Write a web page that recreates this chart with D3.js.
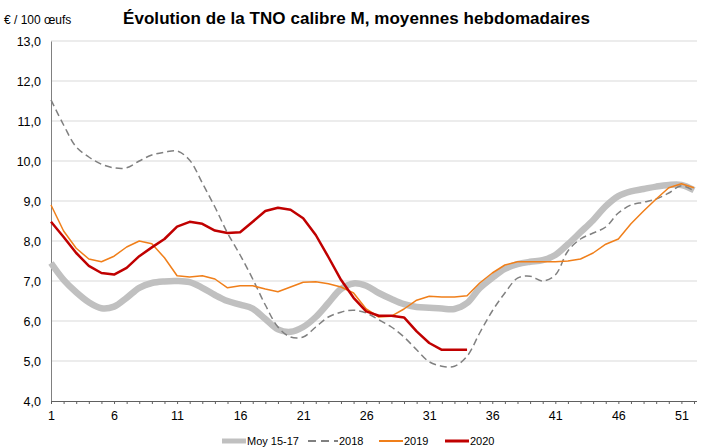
<!DOCTYPE html>
<html>
<head>
<meta charset="utf-8">
<script src="https://cdn.jsdelivr.net/npm/d3@7"></script>
<style>
body { margin: 0; background: #fff; }
text { font-family: "Liberation Sans", Arial, sans-serif; }
</style>
</head>
<body>
<svg id="chart" width="704" height="448"></svg>
<script>
// weekly prices, € / 100 eggs
var weeks = d3.range(1, 53);
var moy1517 = [7.45, 7.03, 6.72, 6.47, 6.32, 6.36, 6.58, 6.83, 6.95, 6.99, 7.0, 6.97, 6.83, 6.65, 6.5, 6.41, 6.31, 6.05, 5.79, 5.73,
	5.85, 6.1, 6.45, 6.8, 6.94, 6.88, 6.7, 6.55, 6.42, 6.35, 6.33, 6.31, 6.3, 6.45, 6.82, 7.08, 7.3, 7.42, 7.48, 7.52,
	7.65, 7.92, 8.22, 8.52, 8.87, 9.12, 9.24, 9.3, 9.36, 9.4, 9.4, 9.27];
var y2018 = [11.53, 10.9, 10.35, 10.1, 9.92, 9.83, 9.83, 10.0, 10.15, 10.22, 10.25, 10.02, 9.45, 8.85, 8.2, 7.65, 7.05, 6.4, 5.85, 5.6,
	5.6, 5.85, 6.1, 6.22, 6.27, 6.2, 6.03, 5.85, 5.6, 5.28, 4.98, 4.87, 4.87, 5.12, 5.7, 6.25, 6.7, 7.07, 7.12, 7.0,
	7.15, 7.75, 8.05, 8.2, 8.35, 8.7, 8.9, 8.97, 9.05, 9.2, 9.38, 9.25];
var y2019 = [8.9, 8.25, 7.82, 7.55, 7.48, 7.62, 7.85, 8.0, 7.93, 7.58, 7.13, 7.1, 7.13, 7.05, 6.83, 6.88, 6.88, 6.8, 6.73, 6.85,
	6.97, 6.98, 6.93, 6.85, 6.7, 6.3, 6.1, 6.12, 6.3, 6.52, 6.62, 6.6, 6.6, 6.63, 6.95, 7.2, 7.4, 7.48, 7.48, 7.48,
	7.48, 7.5, 7.55, 7.7, 7.92, 8.05, 8.43, 8.75, 9.05, 9.33, 9.43, 9.33];
var y2020 = [8.48, 8.1, 7.7, 7.38, 7.2, 7.16, 7.33, 7.62, 7.84, 8.05, 8.36, 8.48, 8.43, 8.26, 8.2, 8.22, 8.48, 8.75, 8.83, 8.78,
	8.57, 8.15, 7.6, 7.03, 6.58, 6.24, 6.13, 6.13, 6.09, 5.74, 5.45, 5.28, 5.28, 5.28];
var xTicks = [1, 6, 11, 16, 21, 26, 31, 36, 41, 46, 51];
var yTicks = d3.range(4, 13.5, 1);

var svg = d3.select("#chart");
var plot = {left: 51, right: 697, top: 41, bottom: 401};

var xScale = d3.scaleLinear().domain([1, 52]).range([plot.left, 694]);
var yScale = d3.scaleLinear().domain([4, 13]).range([plot.bottom, plot.top]);
var fmt = function(v){ return d3.format(".1f")(v).replace(".", ","); };

// horizontal grid
svg.append("g")
	.selectAll("line")
	.data(yTicks.filter(function(d){ return d > 4; }))
	.enter().append("line")
	.attr("x1", plot.left)
	.attr("x2", plot.right)
	.attr("y1", function(d){ return yScale(d); })
	.attr("y2", function(d){ return yScale(d); })
	.attr("stroke", "#d9d9d9")
	.attr("stroke-width", 1);

// y axis
var yAxis = svg.append("g")
	.attr("transform", "translate(" + plot.left + ",0)")
	.call(d3.axisLeft(yScale).tickValues(yTicks).tickFormat(fmt).tickSize(0).tickPadding(10));
yAxis.select(".domain").attr("stroke", "#808080");
yAxis.selectAll("text").attr("font-size", 12.5).attr("fill", "#000");

// x axis: minor ticks every week, labels every five
var xAxis = svg.append("g")
	.attr("transform", "translate(0," + plot.bottom + ")")
	.call(d3.axisBottom(xScale).tickValues(weeks).tickSize(3).tickSizeOuter(0).tickFormat(""));
xAxis.select(".domain").attr("stroke", "#606060").attr("d", "M" + plot.left + ",0.5H" + plot.right);
xAxis.selectAll(".tick line").attr("stroke", "#606060");
svg.append("g")
	.attr("transform", "translate(0," + plot.bottom + ")")
	.call(d3.axisBottom(xScale).tickValues(xTicks).tickSize(0).tickPadding(10).tickFormat(d3.format("d")))
	.call(function(g){ g.select(".domain").remove(); })
	.selectAll("text").attr("font-size", 12.5).attr("fill", "#000");

var series = [
	{name: "Moy 15-17", values: moy1517, color: "#c0c0c0", width: 6.5, dash: null, curve: d3.curveCatmullRom},
	{name: "2018", values: y2018, color: "#808080", width: 1.5, dash: "7,4", curve: d3.curveCatmullRom},
	{name: "2019", values: y2019, color: "#f07f1a", width: 1.5, dash: null, curve: d3.curveLinear},
	{name: "2020", values: y2020, color: "#c00000", width: 2.5, dash: null, curve: d3.curveLinear}
];

series.forEach(function(s){
	var line = d3.line()
		.x(function(d, i){ return xScale(weeks[i]); })
		.y(function(d){ return yScale(d); })
		.curve(s.curve);
	svg.append("path")
		.attr("d", line(s.values))
		.attr("fill", "none")
		.attr("stroke", s.color)
		.attr("stroke-width", s.width)
		.attr("stroke-dasharray", s.dash)
		.attr("stroke-linejoin", "round");
});

// titles
svg.append("text")
	.attr("x", 4).attr("y", 24)
	.attr("font-size", 12)
	.text("€ / 100 œufs");
svg.append("text")
	.attr("x", 123).attr("y", 24)
	.attr("font-size", 17)
	.attr("font-weight", "bold")
	.attr("textLength", 467)
	.text("Évolution de la TNO calibre M, moyennes hebdomadaires");

// legend
var legendPos = [222, 308, 379, 445];
var legend = svg.append("g").attr("transform", "translate(0,441)");
series.forEach(function(s, i){
	var g = legend.append("g").attr("transform", "translate(" + legendPos[i] + ",0)");
	var sw = i == 1 ? 30 : 24;
	g.append("line")
		.attr("x1", 0).attr("x2", sw)
		.attr("y1", 0).attr("y2", 0)
		.attr("stroke", s.color)
		.attr("stroke-width", i == 0 ? 5 : (i == 3 ? 3 : 2))
		.attr("stroke-dasharray", i == 1 ? "8,5" : null);
	g.append("text")
		.attr("x", sw + 1).attr("y", 4)
		.attr("font-size", 11)
		.text(s.name);
});
</script>
</body>
</html>
